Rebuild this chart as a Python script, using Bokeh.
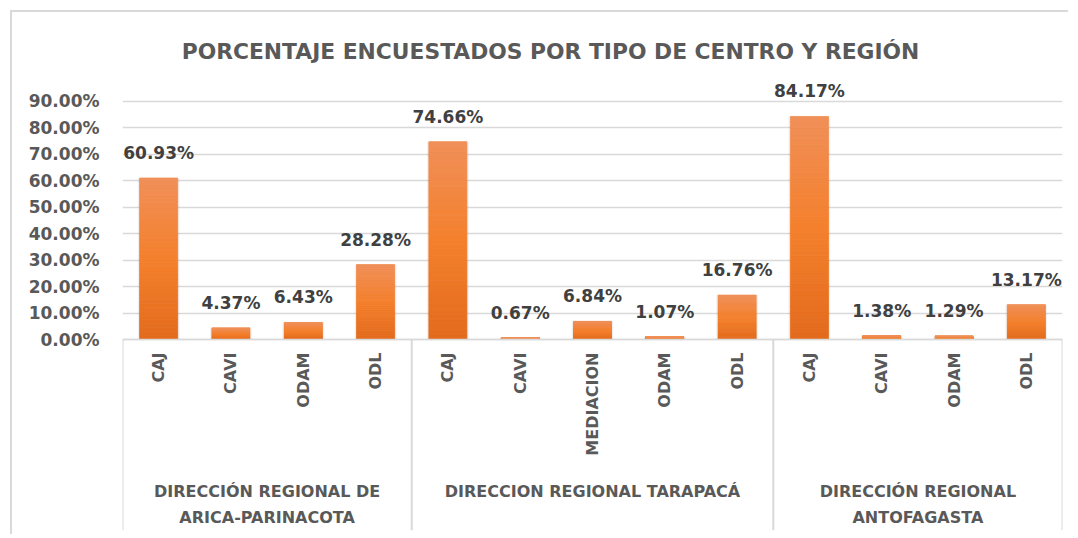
import numpy as np
from bokeh.plotting import figure
from bokeh.models import ColumnDataSource, Range1d, FixedTicker, PrintfTickFormatter
from bokeh.core.properties import value
from bokeh.embed import file_html
from bokeh.resources import INLINE

# ---------------- data ----------------
TITLE = "PORCENTAJE ENCUESTADOS POR TIPO DE CENTRO Y REGIÓN"
regions = ["DIRECCIÓN REGIONAL DE\nARICA-PARINACOTA",
           "DIRECCION REGIONAL TARAPACÁ",
           "DIRECCIÓN REGIONAL\nANTOFAGASTA"]
centers_arica = ["CAJ", "CAVI", "ODAM", "ODL"]
centers_tarapaca = ["CAJ", "CAVI", "MEDIACION", "ODAM", "ODL"]
centers_antofagasta = ["CAJ", "CAVI", "ODAM", "ODL"]
values_arica = [60.93, 4.37, 6.43, 28.28]
values_tarapaca = [74.66, 0.67, 6.84, 1.07, 16.76]
values_antofagasta = [84.17, 1.38, 1.29, 13.17]
y_ticks = [0, 10, 20, 30, 40, 50, 60, 70, 80, 90]

groups = [centers_arica, centers_tarapaca, centers_antofagasta]
group_vals = [values_arica, values_tarapaca, values_antofagasta]

# ---------------- derived positions ----------------
cats, vals, xs = [], [], []
group_centers, boundaries = [], [-0.5]
pos = 0
for g, gv in zip(groups, group_vals):
    start = pos
    for c, v in zip(g, gv):
        cats.append(c); vals.append(v); xs.append(pos)
        pos += 1
    group_centers.append((start + pos - 1) / 2)
    boundaries.append(pos - 0.5)

FONT = value("DejaVu Sans")
GRAY = "#595959"
DARK = "#404040"
LINE = "#d9d9d9"

W, H = 1058, 524
BOTTOM_PAD = 6
PX_PER_UNIT = 2.65          # pixels per percent point
ZERO_FROM_TOP = 327         # screen px from canvas top to the 0% line
y_end = ZERO_FROM_TOP / PX_PER_UNIT
y_start = -(H - BOTTOM_PAD - ZERO_FROM_TOP) / PX_PER_UNIT

p = figure(width=W, height=H, output_backend="svg", toolbar_location=None,
           x_range=Range1d(-0.5, len(cats) - 0.5), y_range=Range1d(y_start, y_end),
           min_border_left=110, min_border_right=8, min_border_top=0,
           min_border_bottom=BOTTOM_PAD)
# outer chart border (left and top edges of the chart box)
p.styles = {"margin-left": "10px", "margin-top": "10px",
            "border-left": "2px solid #d9d9d9", "border-top": "2px solid #d9d9d9"}
p.outline_line_color = None
p.background_fill_color = "white"
p.border_fill_color = "white"
p.xaxis.visible = False
p.xgrid.visible = False

yax = p.yaxis[0]
yax.ticker = FixedTicker(ticks=y_ticks)
yax.formatter = PrintfTickFormatter(format="%.2f%%")
yax.axis_line_color = None
yax.major_tick_line_color = None
yax.minor_tick_line_color = None
yax.major_tick_out = 0
yax.major_tick_in = 0
yax.major_label_standoff = 23
yax.major_label_text_font = "DejaVu Sans"
yax.major_label_text_font_style = "bold"
yax.major_label_text_font_size = "17px"
yax.major_label_text_color = GRAY
p.ygrid.ticker = FixedTicker(ticks=y_ticks)
p.ygrid.grid_line_color = LINE
p.ygrid.grid_line_width = 1.5

# ---------------- bars with vertical gradient ----------------
BAR_W = 0.526
N = 40
c_top = np.array([240, 143, 88])
c_mid = np.array([244, 128, 44])
c_bot = np.array([226, 106, 29])
bx, bb, bt, bc = [], [], [], []
for x, v in zip(xs, vals):
    for k in range(N):
        t = (k + 0.5) / N
        if t < 0.5:
            c = c_bot + (c_mid - c_bot) * (t / 0.5)
        else:
            c = c_mid + (c_top - c_mid) * ((t - 0.5) / 0.5)
        bx.append(x); bb.append(v * k / N); bt.append(v * (k + 1) / N)
        bc.append("#%02x%02x%02x" % tuple(int(round(q)) for q in c))

src_bars = ColumnDataSource(dict(x=xs, top=vals, label=[f"{v:.2f}%" for v in vals], cat=cats))
# soft shadow
p.vbar(x="x", top="top", bottom=0, width=BAR_W + 0.05, source=src_bars,
       fill_color="#000000", fill_alpha=0.06, line_color=None)
p.vbar(x=bx, bottom=bb, top=bt, width=BAR_W, fill_color=bc, line_color=bc, line_width=0.8)

# value labels
p.text(x="x", y="top", text="label", source=src_bars, y_offset=-25,
       text_align="center", text_baseline="middle", text_font=FONT,
       text_font_style="bold", text_font_size="17px", text_color=DARK)

# category labels (rotated)
p.text(x="x", y=0, text="cat", source=src_bars, angle=np.pi / 2, y_offset=13,
       text_align="right", text_baseline="middle", text_font=FONT,
       text_font_style="bold", text_font_size="16px", text_color=GRAY)

# group labels
p.text(x=group_centers, y=[0] * len(group_centers), text=regions, y_offset=142,
       text_align="center", text_baseline="top", text_font=FONT,
       text_font_style="bold", text_font_size="16px", text_color=GRAY,
       text_line_height=1.39)

# axis line and separators
p.segment(x0=[-0.5], y0=[0], x1=[len(cats) - 0.5], y1=[0], line_color=LINE, line_width=1.5)
p.segment(x0=boundaries, y0=[0] * len(boundaries), x1=boundaries,
          y1=[y_start] * len(boundaries), line_color=LINE, line_width=2)

# title
p.text(x=[(len(cats) - 1) / 2], y=[y_ticks[-1]], text=[TITLE], x_offset=-42, y_offset=-50,
       text_align="center", text_baseline="middle", text_font=FONT,
       text_font_style="bold", text_font_size="21.8px", text_color=GRAY)

open("out.html", "w").write(file_html(p, INLINE))
